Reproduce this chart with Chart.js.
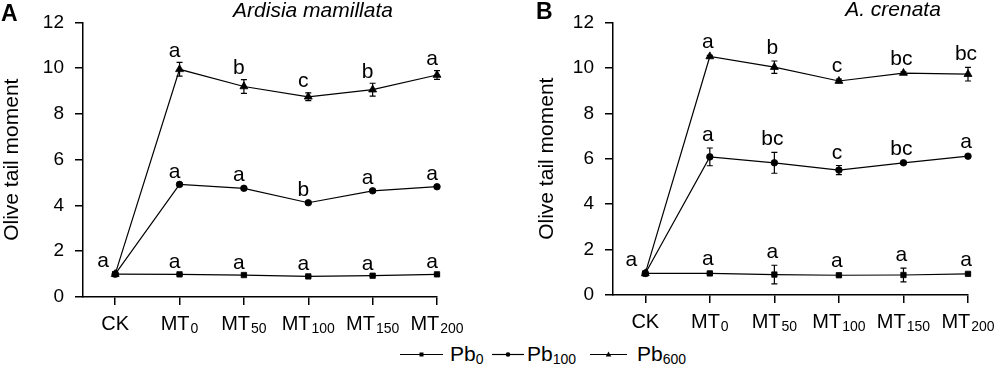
<!DOCTYPE html>
<html>
<head>
<meta charset="utf-8">
<script src="https://cdn.jsdelivr.net/npm/chart.js@4.4.1/dist/chart.umd.min.js"></script>
<style>
  body { margin: 0; background: #fff; width: 1000px; height: 366px; overflow: hidden;
         font-family: "Liberation Sans", Arial, sans-serif; }
  canvas { position: absolute; top: 0; }
  #chartA { left: 0; }
  #chartB { left: 500px; }
  .lg { position: absolute; top: 343px; height: 22px; }
  .lg svg { position: absolute; top: 0; }
  .lg span { position: absolute; top: 0; font-size: 21px; line-height: 22px; color: #000; white-space: nowrap; }
  .lg sub { font-size: 14px; vertical-align: -3px; line-height: 0; }
</style>
</head>
<body>
<canvas id="chartA" width="500" height="340"></canvas>
<canvas id="chartB" width="500" height="340"></canvas>
<div id="legend"></div>

<script>
// Категории оси X (основа + подстрочный индекс)
const categories = ['CK', 'MT', 'MT', 'MT', 'MT', 'MT'];
const catSubs = ['', '0', '50', '100', '150', '200'];
const yTicks = [0, 2, 4, 6, 8, 10, 12];

// Серии
const seriesBase = ['Pb', 'Pb', 'Pb'];
const seriesSubs = ['0', '100', '600'];

// Панель A: Ardisia mamillata
const aPb0 = [1.00, 0.99, 0.96, 0.90, 0.93, 0.99];
const aPb0Err = [0.04, 0.03, 0.03, 0.03, 0.03, 0.03];
const aPb100 = [1.00, 4.92, 4.75, 4.12, 4.64, 4.82];
const aPb100Err = [0.04, 0.05, 0.06, 0.05, 0.05, 0.05];
const aPb600 = [1.00, 9.95, 9.20, 8.75, 9.06, 9.70];
const aPb600Err = [0.04, 0.30, 0.30, 0.17, 0.28, 0.19];
const aLet0 = ['a', 'a', 'a', 'a', 'a', 'a'];
const aLet100 = ['', 'a', 'a', 'b', 'a', 'a'];
const aLet600 = ['', 'a', 'b', 'c', 'b', 'a'];

// Панель B: A. crenata
const bPb0 = [0.95, 0.95, 0.90, 0.87, 0.88, 0.93];
const bPb0Err = [0.04, 0.05, 0.41, 0.05, 0.30, 0.04];
const bPb100 = [0.95, 6.08, 5.82, 5.50, 5.82, 6.11];
const bPb100Err = [0.04, 0.39, 0.46, 0.20, 0.05, 0.05];
const bPb600 = [0.95, 10.50, 10.03, 9.42, 9.77, 9.72];
const bPb600Err = [0.04, 0.05, 0.27, 0.08, 0.05, 0.30];
const bLet0 = ['a', 'a', 'a', 'a', 'a', 'a'];
const bLet100 = ['', 'a', 'bc', 'c', 'bc', 'a'];
const bLet600 = ['', 'a', 'b', 'c', 'bc', 'bc'];

const FONT = '"Liberation Sans", Arial, sans-serif';
Chart.defaults.font.family = FONT;
Chart.defaults.color = '#000';

const markers = [
    { style: 'rect', radius: 3.8 },
    { style: 'circle', radius: 3.3 },
    { style: 'triangle', radius: 4.6 }
];

// Рисуем погрешности, буквы, подписи оси X и заголовки
const panelExtras = {
    id: 'panelExtras',
    beforeDatasetsDraw(chart, args, opts) {
        const ctx = chart.ctx, xs = chart.scales.x, ys = chart.scales.y;
        ctx.save();
        ctx.strokeStyle = '#000';
        ctx.lineWidth = 1.2;
        opts.errors.forEach((errs, si) => {
            chart.data.datasets[si].data.forEach((p, i) => {
                const x = xs.getPixelForValue(p.x);
                const y1 = ys.getPixelForValue(p.y + errs[i]);
                const y2 = ys.getPixelForValue(p.y - errs[i]);
                ctx.beginPath();
                ctx.moveTo(x, y1); ctx.lineTo(x, y2);
                ctx.moveTo(x - 3, y1); ctx.lineTo(x + 3, y1);
                ctx.moveTo(x - 3, y2); ctx.lineTo(x + 3, y2);
                ctx.stroke();
            });
        });
        ctx.restore();
    },
    afterDraw(chart, args, opts) {
        const ctx = chart.ctx, xs = chart.scales.x, ys = chart.scales.y;
        const area = chart.chartArea;
        ctx.save();
        ctx.fillStyle = '#000';

        // буквы значимости
        ctx.font = '21px ' + FONT;
        ctx.textAlign = 'center';
        ctx.textBaseline = 'alphabetic';
        opts.letters.forEach((lets, si) => {
            chart.data.datasets[si].data.forEach((p, i) => {
                if (!lets[i]) return;
                const x = xs.getPixelForValue(p.x);
                if (i === 0) {
                    ctx.fillText(lets[i], x + opts.ckShift, ys.getPixelForValue(p.y) - 7);
                } else {
                    const top = ys.getPixelForValue(p.y + opts.errors[si][i]);
                    ctx.fillText(lets[i], x + opts.letterShift, top - opts.gap);
                }
            });
        });

        // подписи категорий с индексами
        const baseY = area.bottom + 33;
        categories.forEach((c, i) => {
            const x = xs.getPixelForValue(i);
            ctx.font = '20px ' + FONT;
            const w1 = ctx.measureText(c).width;
            ctx.font = '14px ' + FONT;
            const w2 = catSubs[i] ? ctx.measureText(catSubs[i]).width + 1 : 0;
            const left = x - (w1 + w2) / 2;
            ctx.textAlign = 'left';
            ctx.font = '20px ' + FONT;
            ctx.fillText(c, left, baseY);
            if (catSubs[i]) {
                ctx.font = '14px ' + FONT;
                ctx.fillText(catSubs[i], left + w1 + 1, baseY + 2.5);
            }
        });

        // буква панели и название вида
        ctx.textAlign = 'left';
        ctx.font = 'bold 23px ' + FONT;
        ctx.fillText(opts.panel, opts.panelX, opts.panelY);
        ctx.textAlign = 'center';
        ctx.font = 'italic 21px ' + FONT;
        ctx.fillText(opts.title, opts.titleX, opts.titleY);
        ctx.restore();
    }
};

function makePanel(id, series, errors, letters, cfg) {
    const datasets = series.map((vals, si) => ({
        label: seriesBase[si] + seriesSubs[si],
        data: vals.map((v, i) => ({ x: i, y: v })),
        borderColor: '#000',
        backgroundColor: '#000',
        borderWidth: 1.2,
        pointStyle: markers[si].style,
        pointRadius: markers[si].radius,
        pointBorderWidth: 0.8,
        tension: 0,
        clip: false
    }));
    return new Chart(document.getElementById(id), {
        type: 'line',
        data: { datasets: datasets },
        options: {
            responsive: false,
            animation: false,
            events: [],
            layout: { padding: cfg.pad },
            plugins: {
                legend: { display: false },
                tooltip: { enabled: false },
                panelExtras: Object.assign({ errors: errors, letters: letters }, cfg.extras)
            },
            scales: {
                x: {
                    type: 'linear',
                    min: -0.5,
                    max: categories.length - 1,
                    afterBuildTicks: ax => { ax.ticks = categories.map((c, i) => ({ value: i })); },
                    afterFit: s => { s.height = cfg.xHeight; },
                    ticks: { display: false },
                    grid: { drawOnChartArea: false, drawTicks: true, tickLength: 8, color: '#000', lineWidth: 1.5 },
                    border: { color: '#000', width: 1.5 }
                },
                y: {
                    min: 0,
                    max: 12,
                    afterBuildTicks: ax => { ax.ticks = yTicks.map(v => ({ value: v })); },
                    afterFit: s => { s.width = cfg.yWidth; },
                    ticks: { font: { size: 19 }, color: '#000', padding: 11 },
                    grid: { drawOnChartArea: false, drawTicks: true, tickLength: 8, color: '#000', lineWidth: 1.5 },
                    border: { color: '#000', width: 1.5 },
                    title: { display: true, text: 'Olive tail moment', font: { size: 21 }, color: '#000', padding: 0 }
                }
            }
        },
        plugins: [panelExtras]
    });
}

makePanel('chartA',
    [aPb0, aPb100, aPb600],
    [aPb0Err, aPb100Err, aPb600Err],
    [aLet0, aLet100, aLet600],
    {
        pad: { left: 0, top: 22, right: 63, bottom: 0 },
        yWidth: 83, xHeight: 43,
        extras: { panel: 'A', panelX: 1, panelY: 21, title: 'Ardisia mamillata', titleX: 313, titleY: 17,
                  letterShift: -5, ckShift: -12, gap: 5.5 }
    });

makePanel('chartB',
    [bPb0, bPb100, bPb600],
    [bPb0Err, bPb100Err, bPb600Err],
    [bLet0, bLet100, bLet600],
    {
        pad: { left: 35, top: 20, right: 32, bottom: 0 },
        yWidth: 78, xHeight: 45,
        extras: { panel: 'B', panelX: 36, panelY: 19, title: 'A. crenata', titleX: 393, titleY: 16,
                  letterShift: -2, ckShift: -14, gap: 7 }
    });

// Общая легенда внизу
const legendPos = [
    { lineX: 400, lineW: 43, textX: 450 },
    { lineX: 492, lineW: 32, textX: 527 },
    { lineX: 590, lineW: 37, textX: 637 }
];
const legendMarks = [
    '<rect x="-2" y="-2" width="4" height="4"/>',
    '<circle r="2.3"/>',
    '<polygon points="0,-3 2.8,2 -2.8,2"/>'
];
const legend = document.getElementById('legend');
seriesBase.forEach((b, i) => {
    const p = legendPos[i];
    const item = document.createElement('div');
    item.className = 'lg';
    item.style.left = p.lineX + 'px';
    item.innerHTML =
        '<svg width="' + p.lineW + '" height="22"><line x1="0" y1="11.5" x2="' + p.lineW +
        '" y2="11.5" stroke="#000" stroke-width="1.2"/><g transform="translate(' + (p.lineW / 2) +
        ',11.5)" fill="#000">' + legendMarks[i] + '</g></svg>' +
        '<span style="left:' + (p.textX - p.lineX) + 'px">' + b + '<sub>' + seriesSubs[i] + '</sub></span>';
    legend.appendChild(item);
});
</script>
</body>
</html>
